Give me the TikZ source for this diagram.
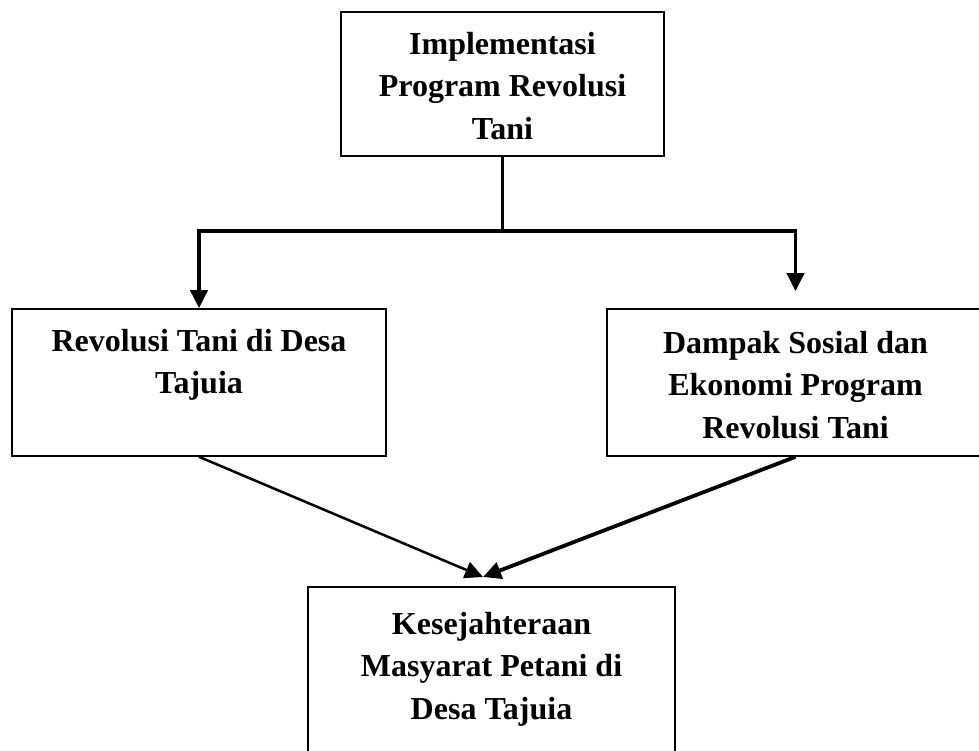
\documentclass[tikz,border=0pt]{standalone}
\usepackage{fontspec}
\setmainfont{Liberation Serif}
\usetikzlibrary{arrows.meta,positioning,calc}

\tikzset{
  kotak/.style={draw, line width=1.6pt, inner sep=0pt, font=\fontsize{32}{42.5}\selectfont\bfseries},
  garis/.style={line width=3.8pt},
  panah/.style={line width=3.8pt, -{Triangle[length=18pt,width=17pt]}},
}
\newcommand{\isikotak}[4][20pt]{\parbox[c][#3][t]{#2}{\centering\vspace*{#1}#4}}

\begin{document}
\begin{tikzpicture}[x=1pt, y=-1pt]
\useasboundingbox (0,0) rectangle (979,751);
\clip (0,0) rectangle (979,751);

% Boxes
\node[kotak] (atas) at (502.5,84) {\isikotak{323pt}{144pt}{Implementasi\\Program Revolusi\\Tani}};
\node[kotak] (kiri) at (199,382.5) {\isikotak{374pt}{147pt}{Revolusi Tani di Desa\\Tajuia}};
\node[kotak] (kanan) at (795.5,382.5) {\isikotak[22pt]{377pt}{147pt}{Dampak Sosial dan\\Ekonomi Program\\Revolusi Tani}};
\node[kotak] (bawah) at (491.5,678.5) {\isikotak[25pt]{367pt}{183pt}{Kesejahteraan\\Masyarat Petani di\\Desa Tajuia}};

% Branch from the top box
\coordinate (cabang) at (502.5,231);
\draw[garis] (atas.south) -- (cabang);
\draw[panah] (cabang) -| (kiri.north);
\draw[panah, shorten >=17pt] (cabang) -| (kanan.north);

% Arrows into the bottom box
\coordinate (tuju) at (483,577);
\draw[panah, line width=2.5pt] (kiri.south) -- (tuju);
\draw[panah] (kanan.south) -- (tuju);

\end{tikzpicture}
\end{document}
